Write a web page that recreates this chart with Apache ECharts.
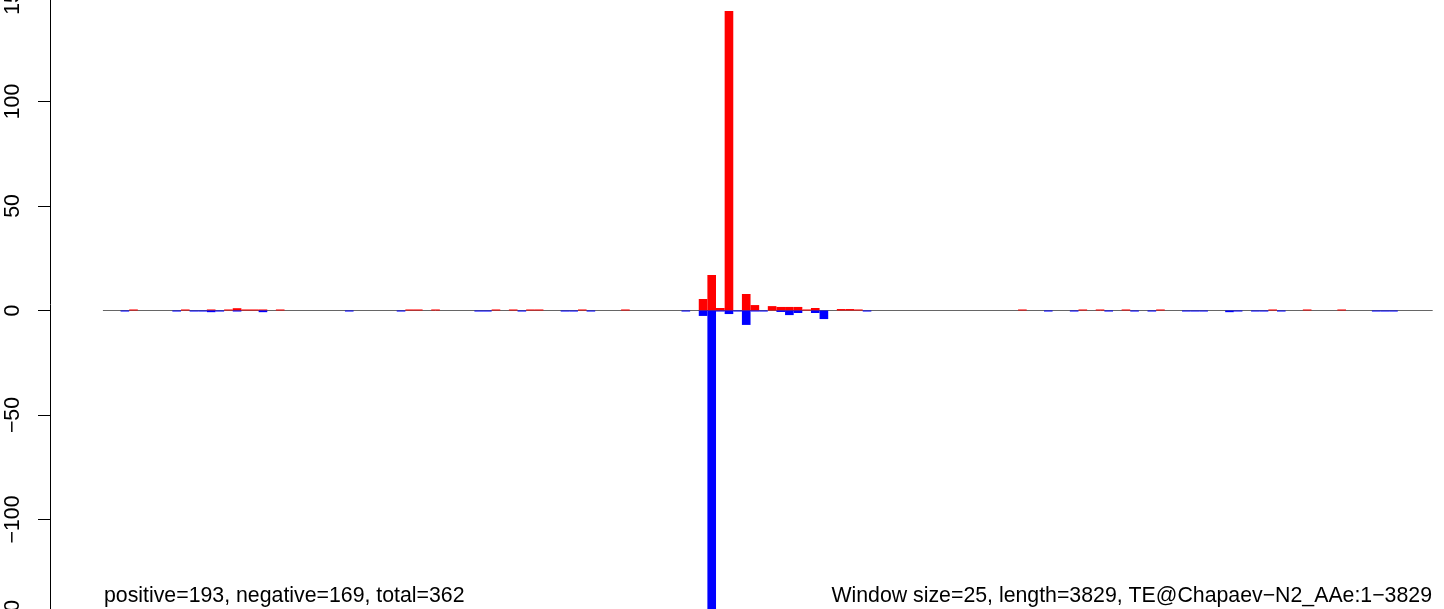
<!DOCTYPE html>
<html>
<head>
<meta charset="utf-8">
<script src="https://cdn.jsdelivr.net/npm/echarts@6/dist/echarts.min.js"></script>
<style>
html,body{margin:0;padding:0;background:#fff;}
#chart{width:1444px;height:609px;}
</style>
</head>
<body>
<div id="chart"></div>
<script>
// ---- data (one value per 25-bp window, 154 windows) ----
var windowSize = 25;
var seqLength = 3829;
var positiveValues = [
  0,0,0,0.5,0,0,0,0,0,0.5,
  0,0,0.5,0,0.5,1.1,0.5,0.5,0.5,0,
  0.5,0,0,0,0,0,0,0,0,0,
  0,0,0,0,0,0.5,0.5,0,0.5,0,
  0,0,0,0,0,0.5,0,0.5,0,0.5,
  0.5,0,0,0,0,0.5,0,0,0,0,
  0.5,0,0,0,0,0,0,0,0,5.5,
  17,1.2,143.3,0,7.9,2.6,0,2.1,1.7,1.7,
  1.7,0.5,1.2,0,0,0.7,0.7,0.5,0,0,
  0,0,0,0,0,0,0,0,0,0,
  0,0,0,0,0,0,0.5,0,0,0,
  0,0,0,0.5,0,0.5,0,0,0.5,0,
  0,0,0.5,0,0,0,0,0,0,0,
  0,0,0,0,0,0.5,0,0,0,0.5,
  0,0,0,0.5,0,0,0,0,0,0,
  0,0,0,0
];
var negativeValues = [
  0,0,-0.5,0,0,0,0,0,-0.5,0,
  -0.5,-0.5,-0.8,-0.5,0,-0.5,0,0,-0.8,0,
  0,0,0,0,0,0,0,0,-0.5,0,
  0,0,0,0,-0.5,0,0,0,0,0,
  0,0,0,-0.5,-0.5,0,0,0,-0.5,0,
  0,0,0,-0.5,-0.5,0,-0.5,0,0,0,
  0,0,0,0,0,0,0,-0.5,0,-2.6,
  -145,-0.5,-1.7,-0.5,-6.9,-0.5,-0.5,0,-0.7,-2.2,
  -1.2,0,-1.2,-4.1,0,0,0,0,-0.5,0,
  0,0,0,0,0,0,0,0,0,0,
  0,0,0,0,0,0,0,0,0,-0.5,
  0,0,-0.5,0,0,0,-0.5,0,0,-0.5,
  0,-0.5,0,0,0,-0.5,-0.5,-0.5,0,0,
  -0.8,-0.5,0,-0.5,-0.5,0,-0.5,0,0,0,
  0,0,0,0,0,0,0,-0.5,-0.5,-0.5,
  0,0,0,0
];
var yTicks = [-150, -100, -50, 0, 50, 100, 150];
var leftNote = 'positive=193, negative=169, total=362';
var rightNote = 'Window size=25, length=3829, TE@Chapaev\u2212N2_AAe:1\u22123829';

// category labels: start position of each window
var windowStarts = [];
for (var i = 0; i < positiveValues.length; i++) { windowStarts.push(String(i * windowSize + 1)); }

var FONT = '"Liberation Sans", Arial, Helvetica, sans-serif';
var chart = echarts.init(document.getElementById('chart'), null, {renderer: 'canvas'});
chart.setOption({
  animation: false,
  backgroundColor: '#ffffff',
  grid: {left: 103.3, right: 11.7, top: -3, bottom: -15, containLabel: false, outerBoundsMode: 'none'},
  xAxis: {
    type: 'category',
    data: windowStarts,
    boundaryGap: true,
    axisLine: {show: true, onZero: true, lineStyle: {color: '#666666', width: 1}},
    axisTick: {show: false},
    axisLabel: {show: false},
    splitLine: {show: false}
  },
  yAxis: {
    type: 'value',
    min: yTicks[0],
    max: yTicks[yTicks.length - 1],
    interval: 50,
    offset: 53.3,
    axisLine: {show: true, lineStyle: {color: '#000000', width: 1}},
    axisTick: {show: true, length: 12, lineStyle: {color: '#000000', width: 1}},
    splitLine: {show: false},
    axisLabel: {
      show: true,
      rotate: 90,
      margin: 26,
      fontSize: 21.3,
      fontFamily: FONT,
      color: '#000000',
      formatter: function (v) { return v < 0 ? '\u2212' + Math.abs(v) : String(v); }
    }
  },
  series: [
    {
      name: 'positive',
      type: 'bar',
      data: positiveValues,
      barWidth: '100%',
      barGap: '-100%',
      barCategoryGap: '0%',
      itemStyle: {color: '#ff0000'},
      z: 3
    },
    {
      name: 'negative',
      type: 'bar',
      data: negativeValues,
      barWidth: '100%',
      barGap: '-100%',
      barCategoryGap: '0%',
      itemStyle: {color: '#0000ff'},
      z: 3
    }
  ],
  graphic: [
    {type: 'text', left: 104, top: 586, style: {text: leftNote, font: '21.3px ' + FONT, fill: '#000'}},
    {type: 'text', right: 12, top: 586, style: {text: rightNote, font: '21.3px ' + FONT, fill: '#000'}}
  ]
});
</script>
</body>
</html>
